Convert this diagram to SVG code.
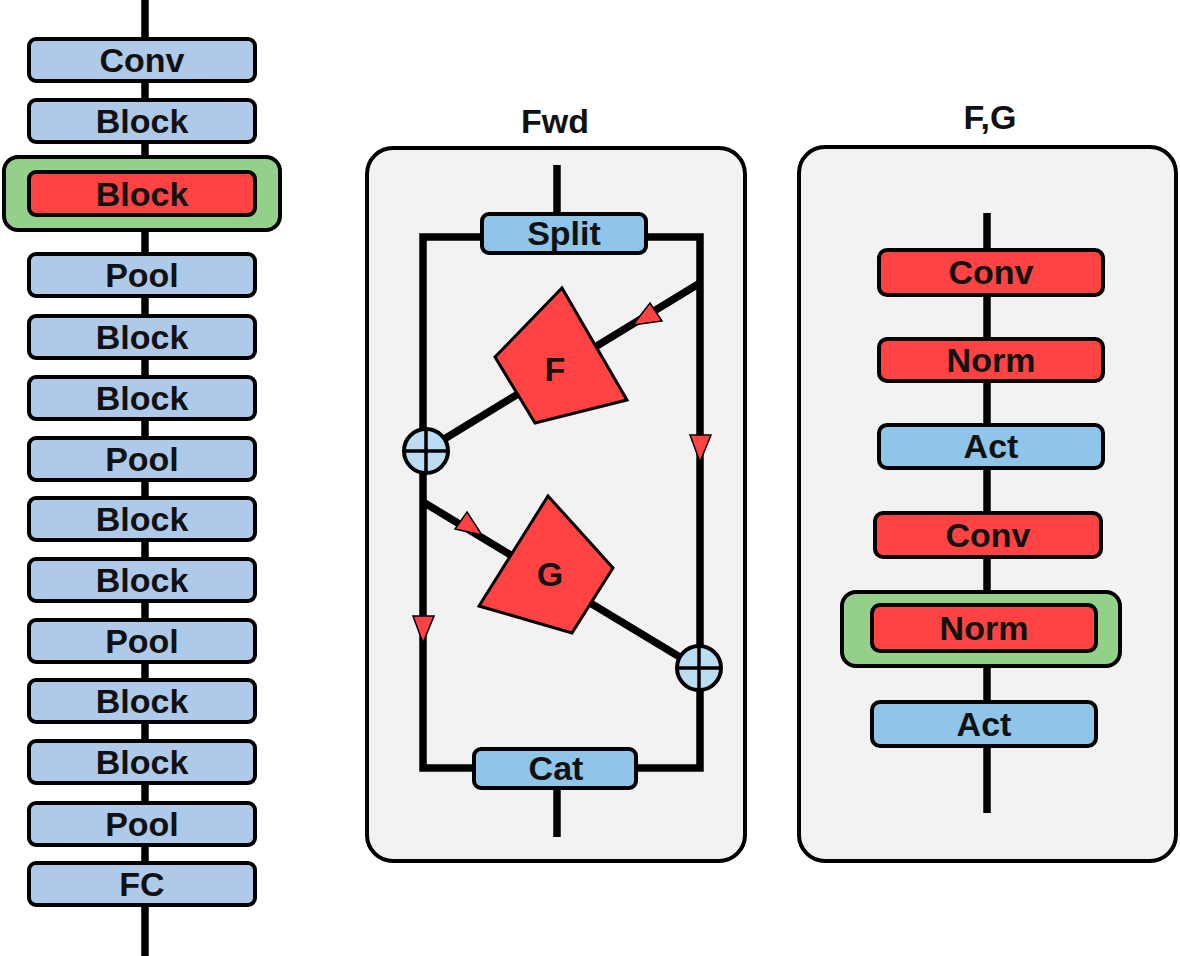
<svg xmlns="http://www.w3.org/2000/svg" width="1180" height="956" viewBox="0 0 1180 956">
<style>
.ln{stroke:#000;stroke-width:7.5;fill:none}
.bx{stroke:#000;stroke-width:4}
.lb{fill:#AFC9E9}
.sb{fill:#8EC5E8}
.rd{fill:#FF4242}
.gr{fill:#93D18B}
.pn{fill:#F2F2F2;stroke:#000;stroke-width:4}
.t{font-family:"Liberation Sans",Arial,sans-serif;font-weight:bold;font-size:34px;text-anchor:middle;fill:#111}
.ar{fill:#FF4242;stroke:#000;stroke-width:1.5;stroke-linejoin:miter}
.cir{fill:#BCDCF2;stroke:#000;stroke-width:4}
.cr{stroke:#000;stroke-width:3.5}
</style>
<rect width="1180" height="956" fill="#fff"/>
<g id="fwd-panel">
<rect class="pn" x="367" y="148" width="378" height="713" rx="26"/>
<text class="t" x="555" y="133" font-size="32">Fwd</text>
</g>
<g id="fg-panel">
<rect class="pn" x="799" y="147" width="377" height="714" rx="26"/>
<text class="t" x="990" y="129" font-size="32">F,G</text>
</g>
<g id="connectors">
<line class="ln" x1="145" y1="0" x2="145" y2="956"/>
<line class="ln" x1="557" y1="165" x2="557" y2="214"/>
<path class="ln" d="M423,237 H700 V768 H423 Z"/>
<line class="ln" x1="700" y1="283" x2="423" y2="452"/>
<line class="ln" x1="423" y1="502" x2="698" y2="668"/>
<line class="ln" x1="557" y1="788" x2="557" y2="837"/>
<line class="ln" x1="987" y1="213" x2="987" y2="813"/>
<polygon class="ar" points="650,303 662,321 633,325"/>
<polygon class="ar" points="467,512 482,535 455,529"/>
<polygon class="ar" points="690,435 711,435 700,462"/>
<polygon class="ar" points="413,616 434,616 423,643"/>
</g>
<g id="left-column">
<g id="l-conv"><rect class="bx lb" x="29" y="39" width="226" height="42" rx="7"/><text class="t" x="142" y="72">Conv</text></g>
<g id="l-block1"><rect class="bx lb" x="29" y="100" width="226" height="42" rx="7"/><text class="t" x="142" y="133">Block</text></g>
<g id="l-block2"><rect class="bx gr" x="4" y="157" width="276" height="73" rx="14"/><rect class="bx rd" x="29" y="172" width="226" height="43" rx="7"/><text class="t" x="142" y="206">Block</text></g>
<g id="l-pool1"><rect class="bx lb" x="29" y="254" width="226" height="42" rx="7"/><text class="t" x="142" y="287">Pool</text></g>
<g id="l-block3"><rect class="bx lb" x="29" y="316" width="226" height="42" rx="7"/><text class="t" x="142" y="349">Block</text></g>
<g id="l-block4"><rect class="bx lb" x="29" y="377" width="226" height="42" rx="7"/><text class="t" x="142" y="410">Block</text></g>
<g id="l-pool2"><rect class="bx lb" x="29" y="438" width="226" height="42" rx="7"/><text class="t" x="142" y="471">Pool</text></g>
<g id="l-block5"><rect class="bx lb" x="29" y="498" width="226" height="42" rx="7"/><text class="t" x="142" y="531">Block</text></g>
<g id="l-block6"><rect class="bx lb" x="29" y="559" width="226" height="42" rx="7"/><text class="t" x="142" y="592">Block</text></g>
<g id="l-pool3"><rect class="bx lb" x="29" y="620" width="226" height="42" rx="7"/><text class="t" x="142" y="653">Pool</text></g>
<g id="l-block7"><rect class="bx lb" x="29" y="680" width="226" height="42" rx="7"/><text class="t" x="142" y="713">Block</text></g>
<g id="l-block8"><rect class="bx lb" x="29" y="741" width="226" height="42" rx="7"/><text class="t" x="142" y="774">Block</text></g>
<g id="l-pool4"><rect class="bx lb" x="29" y="803" width="226" height="42" rx="7"/><text class="t" x="142" y="836">Pool</text></g>
<g id="l-fc"><rect class="bx lb" x="29" y="863" width="226" height="42" rx="7"/><text class="t" x="142" y="896">FC</text></g>
</g>
<g id="split"><rect class="bx sb" x="482" y="214" width="164" height="39" rx="7" stroke-width="3"/><text class="t" x="564" y="245">Split</text></g>
<g id="cat"><rect class="bx sb" x="474" y="749" width="162" height="39" rx="7" stroke-width="3"/><text class="t" x="556" y="780">Cat</text></g>
<g id="F"><polygon points="562,288 627,400 535,423 495,357" fill="#FF4242" stroke="#000" stroke-width="3"/><text class="t" x="555" y="381" font-size="29">F</text></g>
<g id="G"><polygon points="548,496 613,568 572,633 479,606" fill="#FF4242" stroke="#000" stroke-width="3"/><text class="t" x="550" y="586" font-size="29">G</text></g>
<g id="add1"><circle class="cir" cx="426" cy="451" r="22"/><line class="cr" x1="404" y1="451" x2="448" y2="451"/><line class="cr" x1="426" y1="429" x2="426" y2="473"/></g>
<g id="add2"><circle class="cir" cx="699" cy="668" r="22"/><line class="cr" x1="677" y1="668" x2="721" y2="668"/><line class="cr" x1="699" y1="646" x2="699" y2="690"/></g>
<g id="r-conv1"><rect class="bx rd" x="879" y="250" width="224" height="45" rx="8"/><text class="t" x="991" y="284">Conv</text></g>
<g id="r-norm1"><rect class="bx rd" x="879" y="339" width="224" height="42" rx="8"/><text class="t" x="991" y="372">Norm</text></g>
<g id="r-act1"><rect class="bx sb" x="879" y="425" width="224" height="43" rx="8"/><text class="t" x="991" y="458">Act</text></g>
<g id="r-conv2"><rect class="bx rd" x="875" y="513" width="226" height="44" rx="8"/><text class="t" x="988" y="547">Conv</text></g>
<g id="r-norm2"><rect class="bx gr" x="842" y="592" width="278" height="74" rx="14"/><rect class="bx rd" x="872" y="605" width="224" height="46" rx="8"/><text class="t" x="984" y="640">Norm</text></g>
<g id="r-act2"><rect class="bx sb" x="872" y="702" width="224" height="44" rx="8"/><text class="t" x="984" y="736">Act</text></g>
</svg>
